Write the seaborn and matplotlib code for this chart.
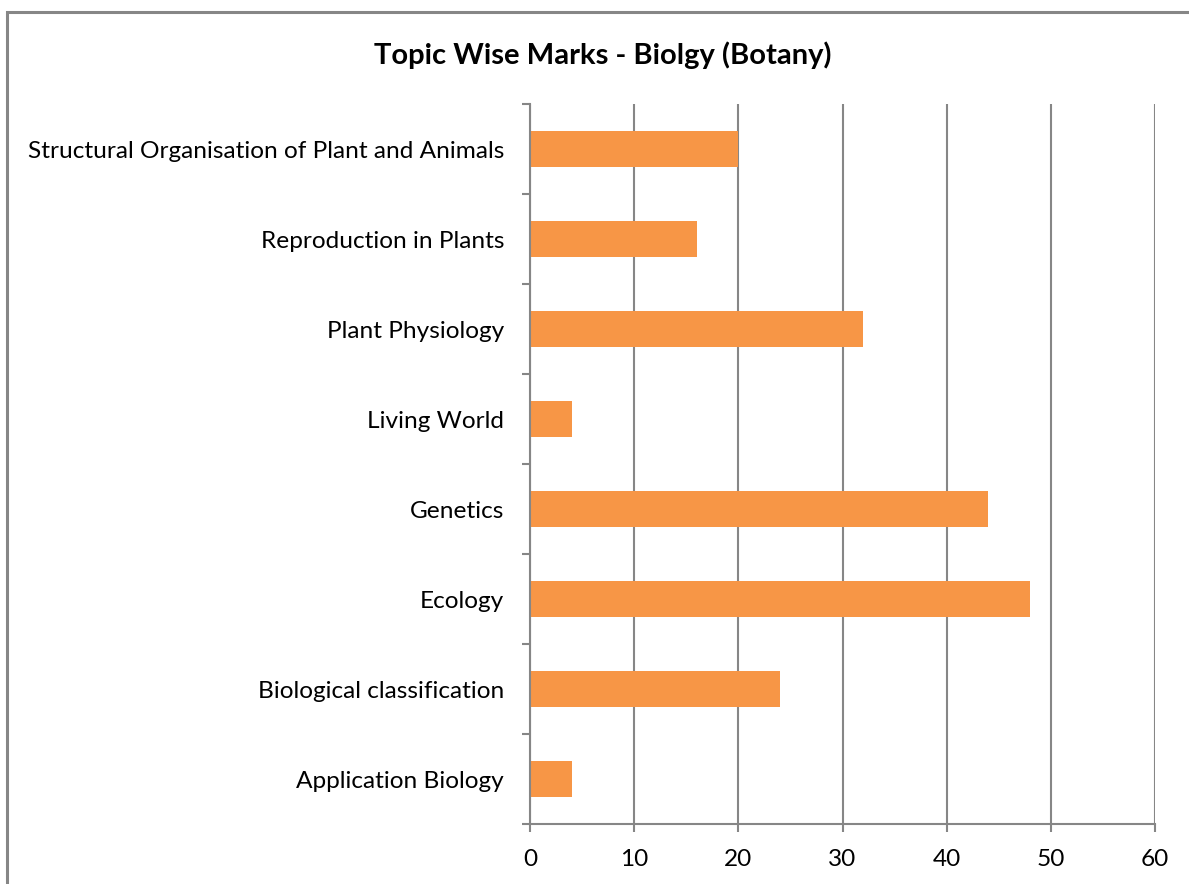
import numpy as np
import pandas as pd
import matplotlib
matplotlib.use("Agg")
import matplotlib.pyplot as plt
import seaborn as sns

# ── Data ────────────────────────────────────────────────────
topics = [
    "Structural Organisation of Plant and Animals",
    "Reproduction in Plants",
    "Plant Physiology",
    "Living World",
    "Genetics",
    "Ecology",
    "Biological classification",
    "Application Biology",
]
marks = [20, 16, 32, 4, 44, 48, 24, 4]
x_ticks = [0, 10, 20, 30, 40, 50, 60]

df = pd.DataFrame({"topic": topics, "marks": marks})

# ── Style ───────────────────────────────────────────────────
sns.set_style("white")
plt.rcParams["font.family"] = ["Lato", "DejaVu Sans"]
plt.rcParams["text.color"] = "black"
grey = "#868686"
bar_color = "#F79646"

fig = plt.figure(figsize=(11.89, 8.84), dpi=100)
ax = fig.add_axes([530 / 1189, 1 - 824 / 884, (1155 - 530) / 1189, (824 - 104) / 884])

sns.barplot(data=df, x="marks", y="topic", order=topics, color=bar_color,
            width=0.4, saturation=1, ax=ax, edgecolor="none")

ax.set_xlim(0, 60)
ax.set_ylim(len(topics) - 0.5, -0.5)
ax.set_xticks(x_ticks)
ax.set_xticklabels([str(t) for t in x_ticks])
ax.set_xlabel("")
ax.set_ylabel("")

# vertical gridlines behind bars
ax.set_axisbelow(True)
ax.grid(axis="x", color=grey, linewidth=1.5)
ax.grid(axis="y", visible=False)

for side in ["top", "right"]:
    ax.spines[side].set_visible(False)
for side in ["left", "bottom"]:
    ax.spines[side].set_color(grey)
    ax.spines[side].set_linewidth(1.5)

# category boundary ticks like Excel
ax.set_yticks(np.arange(-0.5, len(topics)), minor=True)
ax.tick_params(axis="y", which="major", left=True, length=0, pad=18.7,
               labelsize=17.6, labelcolor="black")
ax.tick_params(axis="y", which="minor", left=True, length=6, width=1.5,
               color=grey, direction="out")
ax.tick_params(axis="x", which="major", bottom=True, length=6, width=1.5, color=grey,
               direction="out", pad=12, labelsize=17.6, labelcolor="black")

fig.text(603 / 1189, 1 - 55 / 884, "Topic Wise Marks - Biolgy (Botany)",
         ha="center", va="center", fontsize=21, fontweight="bold", color="black")

# chart area border (cropped on right/bottom)
border = plt.Rectangle((7 / 1189, -0.05), 1.2, 1 - 12 / 884 + 0.05, transform=fig.transFigure,
                       fill=False, edgecolor=grey, linewidth=2.2)
fig.patches.append(border)

fig.savefig("out.png", dpi=100)
